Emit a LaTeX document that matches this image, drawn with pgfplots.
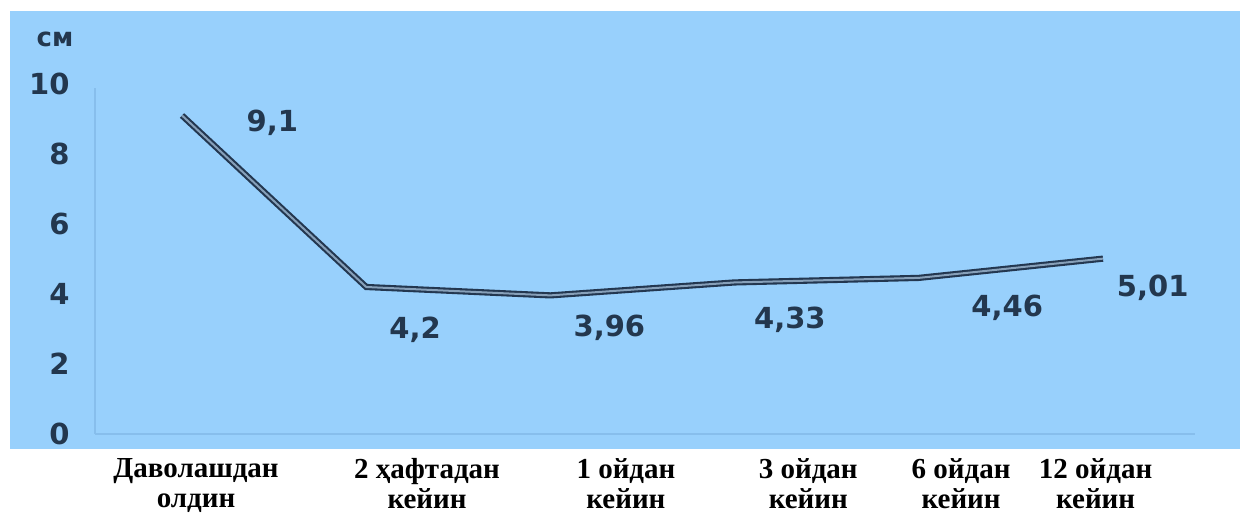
\documentclass[border=0pt]{standalone}
\usepackage{pgfplots}
\pgfplotsset{compat=1.18}
\usepackage{fontspec}
\setmainfont{Liberation Serif}
\newfontfamily\dv{DejaVu Sans}
\definecolor{bgblue}{RGB}{152,208,252}
\definecolor{faint}{RGB}{135,190,236}
\definecolor{ink}{RGB}{35,55,78}
\definecolor{linedark}{RGB}{35,55,80}
\definecolor{linelight}{RGB}{135,160,185}
\begin{document}
\begin{tikzpicture}
\begin{axis}[
  width=615pt, height=219pt, scale only axis,
  xmin=-0.934, xmax=5.744, ymin=-0.429, ymax=12.086,
  axis background/.style={fill=bgblue},
  axis line style={draw=none},
  tick style={draw=none},
  ytick={0,2,4,6,8,10},
  /pgf/number format/assume math mode=true,
  yticklabel style={font=\dv\bfseries\fontsize{14.5}{14.5}\selectfont, text=ink,
    anchor=east, inner sep=0pt, xshift=30pt},
  xtick={0.076,1.33,2.41,3.40,4.23,4.96},
  xticklabels={{Даволашдан\\олдин},{2 ҳафтадан\\кейин},{1 ойдан\\кейин},
    {3 ойдан\\кейин},{6 ойдан\\кейин},{12 ойдан\\кейин}},
  xticklabel style={font=\bfseries\fontsize{14.5}{15}\selectfont, text=black,
    align=center, anchor=north, inner sep=0pt, yshift=-4.5pt},
  clip=false,
]
\draw[faint, line width=0.6pt] (axis cs:-0.472,0) -- (axis cs:-0.472,9.9);
\draw[faint, line width=0.6pt] (axis cs:-0.472,0) -- (axis cs:5.5,0);
\addplot[draw=linedark, line width=1.05pt, double=linelight, double distance=1pt]
  coordinates {(0,9.1) (1,4.2) (2,3.96) (3,4.33) (4,4.46) (5,5.01)};
\begin{scope}[every node/.style={font=\dv\bfseries\fontsize{14.5}{14.5}\selectfont, text=ink}]
\node at (axis cs:0.49,8.89) {9,1};
\node at (axis cs:1.265,2.97) {4,2};
\node at (axis cs:2.32,3.03) {3,96};
\node at (axis cs:3.30,3.26) {4,33};
\node at (axis cs:4.48,3.6) {4,46};
\node at (axis cs:5.27,4.17) {5,01};
\node[font=\dv\bfseries\fontsize{13}{13}\selectfont] at (axis cs:-0.69,11.26) {см};
\end{scope}
\end{axis}
\pgfresetboundingbox
\path[use as bounding box] ([xshift=-5pt,yshift=5.5pt]current axis.north west)
  rectangle ([yshift=-32pt]current axis.south east);
\end{tikzpicture}
\end{document}
